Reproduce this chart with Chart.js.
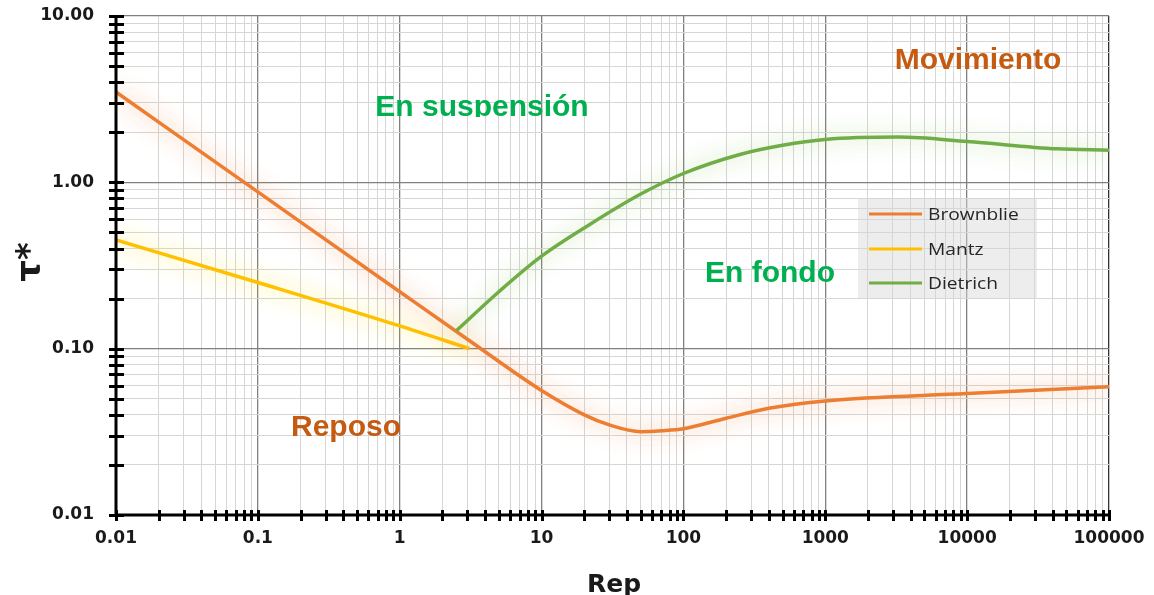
<!DOCTYPE html>
<html>
<head>
<meta charset="utf-8">
<script src="https://cdn.jsdelivr.net/npm/chart.js@4/dist/chart.umd.min.js"></script>
<style>
  html, body { margin: 0; padding: 0; background: #fff; }
  canvas { display: block; }
</style>
</head>
<body>
<canvas id="chart" width="1154" height="595"></canvas>
<script>
// Datos
const seriesNames = ['Brownblie', 'Mantz', 'Dietrich'];

const brownRep = [0.01, 0.1, 1, 3, 10, 20, 30, 50, 70, 100, 200, 400, 1000, 10000, 100000];
const brownTau = [3.49, 0.876, 0.22, 0.114, 0.056, 0.040, 0.0348, 0.0317, 0.0321, 0.033, 0.0382, 0.0438, 0.0485, 0.0537, 0.059];

const mantzRep = [0.01, 0.1, 1, 3.1];
const mantzTau = [0.45, 0.25, 0.137, 0.10];

const dietRep = [2.5, 5, 10, 22, 50, 100, 250, 500, 1000, 3300, 10000, 43000, 100000];
const dietTau = [0.128, 0.22, 0.36, 0.56, 0.85, 1.13, 1.47, 1.67, 1.81, 1.87, 1.76, 1.59, 1.56];

const xTickLabels = ['0.01', '0.1', '1', '10', '100', '1000', '10000', '100000'];
const yTickLabels = ['0.01', '0.10', '1.00', '10.00'];

const zoneLabels = ['Movimiento', 'En suspensión', 'En fondo', 'Reposo'];

// Colores
const lineColors = { Brownblie: '#ed7d31', Mantz: '#ffc000', Dietrich: '#70ad47' };
const glowColors = { Brownblie: 'rgba(245,150,90,0.9)', Mantz: 'rgba(255,230,40,0.9)', Dietrich: 'rgba(150,205,110,0.8)' };
const orangeText = '#c55a11';
const greenText = '#00b050';

// Ticks: décadas (mayores) + 2..9 (menores)
function buildTicks(labels) {
    const decades = labels.map(Number);
    const ticks = [];
    decades.forEach((d, i) => {
        ticks.push({ value: d, major: true });
        if (i < decades.length - 1) {
            for (let m = 2; m <= 9; m++) ticks.push({ value: +(d * m).toPrecision(6), major: false });
        }
    });
    return ticks;
}
const xTicks = buildTicks(xTickLabels);
const yTicks = buildTicks(yTickLabels);

function toPoints(xs, ys) {
    return xs.map((x, i) => ({ x: x, y: ys[i] }));
}

const glowPlugin = {
    id: 'glow',
    beforeDatasetDraw(chart, args) {
        const ctx = chart.ctx;
        ctx.save();
        ctx.shadowColor = glowColors[chart.data.datasets[args.index].label];
        ctx.shadowBlur = 22;
    },
    afterDatasetDraw(chart) {
        chart.ctx.restore();
    }
};

const decorPlugin = {
    id: 'decor',
    beforeDatasetsDraw(chart) {
        const ctx = chart.ctx;
        ctx.save();
        ctx.font = 'bold 30px "Liberation Sans", Arial, sans-serif';
        ctx.textAlign = 'center';
        ctx.textBaseline = 'alphabetic';

        ctx.fillStyle = orangeText;
        ctx.fillText(zoneLabels[0], 978, 69);
        ctx.fillText(zoneLabels[3], 346, 436);

        ctx.fillStyle = greenText;
        ctx.fillText(zoneLabels[2], 770, 282);

        // caja de texto recortada abajo
        ctx.save();
        ctx.beginPath();
        ctx.rect(300, 80, 360, 37);
        ctx.clip();
        ctx.fillText(zoneLabels[1], 482, 116);
        ctx.restore();
        ctx.restore();
    },
    afterDatasetsDraw(chart) {
        const ctx = chart.ctx;
        const xs = chart.scales.x;
        const ys = chart.scales.y;
        const area = chart.chartArea;
        ctx.save();

        // Ejes
        ctx.strokeStyle = '#000';
        ctx.lineWidth = 3;
        ctx.beginPath();
        ctx.moveTo(area.left, area.top);
        ctx.lineTo(area.left, area.bottom);
        ctx.lineTo(area.right, area.bottom);
        ctx.stroke();

        // Marcas cruzando el eje
        ctx.beginPath();
        xTicks.forEach(t => {
            const px = Math.round(xs.getPixelForValue(t.value)) + 0.5;
            ctx.moveTo(px, area.bottom - 5);
            ctx.lineTo(px, area.bottom + 6);
        });
        yTicks.forEach(t => {
            const py = Math.round(ys.getPixelForValue(t.value)) + 0.5;
            ctx.moveTo(area.left - 7, py);
            ctx.lineTo(area.left + 8, py);
        });
        ctx.stroke();

        // Leyenda
        ctx.fillStyle = 'rgba(215,215,215,0.45)';
        ctx.fillRect(858, 198, 179, 100);
        const rowY = [214, 249, 283];
        seriesNames.forEach((name, i) => {
            ctx.strokeStyle = lineColors[name];
            ctx.lineWidth = 3;
            ctx.beginPath();
            ctx.moveTo(869, rowY[i]);
            ctx.lineTo(922, rowY[i]);
            ctx.stroke();
            ctx.save();
            ctx.translate(928, rowY[i]);
            ctx.scale(1.13, 1);
            ctx.fillStyle = '#262626';
            ctx.font = '17px "Open Sans", sans-serif';
            ctx.textAlign = 'left';
            ctx.textBaseline = 'middle';
            ctx.fillText(name, 0, 1);
            ctx.restore();
        });

        // Títulos de ejes
        ctx.fillStyle = '#1a1a1a';
        ctx.font = 'bold 25px "DejaVu Sans", Verdana, sans-serif';
        ctx.textAlign = 'center';
        ctx.textBaseline = 'alphabetic';
        ctx.fillText('Rep', 614, 592);

        ctx.save();
        ctx.translate(31, 262);
        ctx.rotate(-Math.PI / 2);
        ctx.font = 'bold 34px "DejaVu Sans", Verdana, sans-serif';
        ctx.textBaseline = 'middle';
        ctx.fillText('τ*', 0, 0);
        ctx.restore();

        ctx.restore();
    }
};

const majorGrid = '#808080';
const minorGrid = '#d6d6d6';

new Chart(document.getElementById('chart'), {
    type: 'line',
    data: {
        datasets: [
            { label: seriesNames[2], data: toPoints(dietRep, dietTau), order: 1 },
            { label: seriesNames[0], data: toPoints(brownRep, brownTau), order: 2 },
            { label: seriesNames[1], data: toPoints(mantzRep, mantzTau), order: 3 }
        ].map(ds => Object.assign(ds, {
            borderColor: lineColors[ds.label],
            borderWidth: 3.5,
            pointRadius: 0,
            fill: false,
            cubicInterpolationMode: 'monotone'
        }))
    },
    options: {
        responsive: false,
        devicePixelRatio: 1,
        animation: false,
        layout: { padding: { left: 0, top: 16, right: 45, bottom: 0 } },
        plugins: {
            legend: { display: false },
            tooltip: { enabled: false }
        },
        scales: {
            x: {
                type: 'logarithmic',
                min: 0.01,
                max: 100000,
                afterBuildTicks: s => { s.ticks = xTicks.map(t => ({ value: t.value, major: t.major })); },
                afterFit: s => { s.height = 80; s.paddingLeft = 0; s.paddingRight = 0; },
                grid: {
                    drawTicks: false,
                    color: c => (c.tick && c.tick.major) ? (c.tick.value === 100000 ? '#333' : majorGrid) : minorGrid,
                    lineWidth: c => (c.tick && c.tick.major) ? 1.3 : 1
                },
                border: { display: false },
                ticks: {
                    autoSkip: false,
                    maxRotation: 0,
                    padding: 13,
                    color: '#1a1a1a',
                    font: { family: '"DejaVu Sans", Verdana, sans-serif', size: 17, weight: 'bold' },
                    callback: function (value) {
                        const i = xTickLabels.map(Number).indexOf(value);
                        return i >= 0 ? xTickLabels[i] : '';
                    }
                }
            },
            y: {
                type: 'logarithmic',
                min: 0.01,
                max: 10,
                afterBuildTicks: s => { s.ticks = yTicks.map(t => ({ value: t.value, major: t.major })); },
                afterFit: s => { s.width = 116; s.paddingTop = 0; s.paddingBottom = 0; },
                grid: {
                    drawTicks: false,
                    color: c => (c.tick && c.tick.major) ? majorGrid : minorGrid,
                    lineWidth: c => (c.tick && c.tick.major) ? 1.3 : 1
                },
                border: { display: false },
                ticks: {
                    autoSkip: false,
                    padding: 22,
                    color: '#1a1a1a',
                    font: { family: '"DejaVu Sans", Verdana, sans-serif', size: 17, weight: 'bold' },
                    callback: function (value) {
                        const i = yTickLabels.map(Number).indexOf(value);
                        return i >= 0 ? yTickLabels[i] : '';
                    }
                }
            }
        }
    },
    plugins: [glowPlugin, decorPlugin]
});
</script>
</body>
</html>
